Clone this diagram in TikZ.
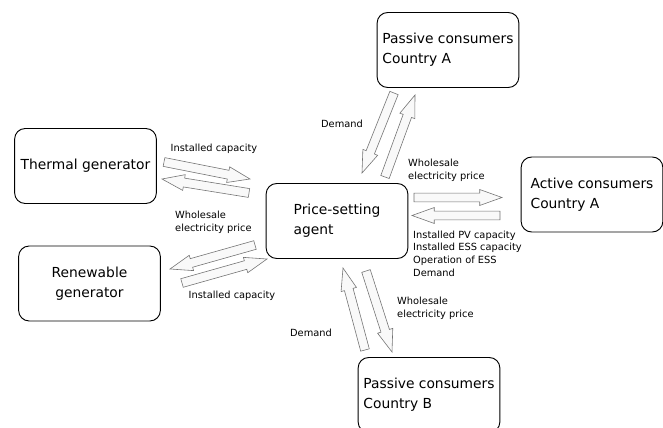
\documentclass[tikz,border=0pt]{standalone}
\usepackage{fontspec}
\setmainfont{DejaVu Sans}
\usetikzlibrary{calc}

% hollow block arrow from #1 to #2
\newcommand{\flowarrow}[2]{%
  \coordinate (hb) at ($(#2)!19pt!(#1)$);
  \draw[flow] ($(#1)!3.8pt!90:(#2)$) -- ($(hb)!3.8pt!-90:(#1)$)
    -- ($(hb)!6.8pt!-90:(#1)$) -- (#2) -- ($(hb)!6.8pt!90:(#1)$)
    -- ($(hb)!3.8pt!90:(#1)$) -- ($(#1)!3.8pt!-90:(#2)$) -- cycle;
}

\begin{document}
\begin{tikzpicture}[x=0.03cm, y=-0.03cm,
    box/.style={draw, rounded corners=9pt, thick, minimum width=121pt,
      minimum height=64pt, align=left, inner sep=0pt,
      font=\fontsize{11.8}{17}\selectfont},
    lbl/.style={inner sep=0pt, align=left,
      font=\fontsize{8.4}{10.8}\selectfont},
    flow/.style={draw=black!55, fill=gray!5, line width=0.5pt}
  ]
  \useasboundingbox (0,0) rectangle (663,428);
  \clip (0,0) rectangle (663,428);

  % actors
  \node[box, align=center] (thermal) at (85.5,166) {Thermal generator};
  \node[box, align=center] (renew) at (89.5,283.5) {Renewable\\generator};
  \node[box] (passA) at (448,50) {Passive consumers\\Country A};
  \node[box] (agent) at (337,221) {Price-setting\\agent};
  \node[box] (active) at (592,194.5) {Active consumers\\Country A};
  \node[box] (passB) at (429,395) {Passive consumers\\Country B};

  % arrow end points
  \coordinate (t1) at (164,162); \coordinate (t2) at (250,179);
  \coordinate (t3) at (249,193); \coordinate (t4) at (162,179);
  \coordinate (r1) at (255,245); \coordinate (r2) at (170,269);
  \coordinate (r3) at (182,283); \coordinate (r4) at (267,259);
  \coordinate (a1) at (394,93);  \coordinate (a2) at (362,173);
  \coordinate (a3) at (385,177); \coordinate (a4) at (415,95);
  \coordinate (c1) at (414,197.5); \coordinate (c2) at (502,197.5);
  \coordinate (c3) at (500,215.5); \coordinate (c4) at (412,215.5);
  \coordinate (b1) at (366,271); \coordinate (b2) at (392,352);
  \coordinate (b3) at (365,350); \coordinate (b4) at (343,268);

  \flowarrow{t1}{t2}
  \flowarrow{t3}{t4}
  \flowarrow{r1}{r2}
  \flowarrow{r3}{r4}
  \flowarrow{a1}{a2}
  \flowarrow{a3}{a4}
  \flowarrow{c1}{c2}
  \flowarrow{c3}{c4}
  \flowarrow{b1}{b2}
  \flowarrow{b3}{b4}

  % labels
  \node[lbl] (tinst) at (214,149) {Installed capacity};
  \node[lbl, anchor=west] (tprice) at (175,222.5) {Wholesale\\electricity price};
  \node[lbl] (rinst) at (232,296) {Installed capacity};
  \node[lbl] (adem) at (342,124) {Demand};
  \node[lbl, anchor=west] (aprice) at (408,170.5) {Wholesale\\electricity price};
  \node[lbl, anchor=west] (actin) at (413,253.5) {Installed PV capacity\\Installed ESS capacity\\Operation of ESS\\Demand};
  \node[lbl, anchor=west] (bprice) at (397,308.5) {Wholesale\\electricity price};
  \node[lbl] (bdem) at (311,333) {Demand};
\end{tikzpicture}
\end{document}
